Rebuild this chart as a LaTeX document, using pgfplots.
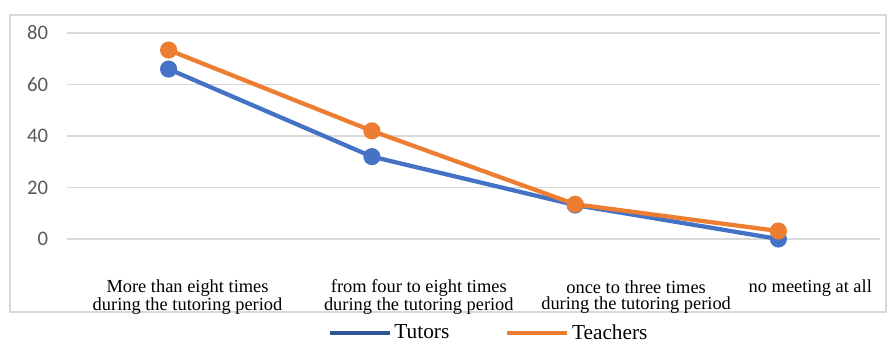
\documentclass[border=0pt]{standalone}
\usepackage{fontspec}
\setmainfont{Liberation Serif}
\newfontfamily\calib{Carlito}
\usepackage{pgfplots}
\pgfplotsset{compat=1.18}
\definecolor{tblue}{HTML}{4472C4}
\definecolor{torange}{HTML}{ED7D31}
\definecolor{tlegblue}{HTML}{2F5597}
\definecolor{gridc}{HTML}{D9D9D9}
\definecolor{tickc}{HTML}{595959}
\begin{document}
\begin{tikzpicture}
\path (0,0) rectangle (666.75pt,-257.25pt);
\draw[color=gridc, line width=1.5pt] (7.5pt,-11.25pt) rectangle (664.5pt,-234pt);
\begin{axis}[
  at={(50.25pt,-179.25pt)}, anchor=south west,
  scale only axis, width=609.75pt, height=154.5pt,
  xmin=-0.5, xmax=3.5, ymin=0, ymax=80,
  clip=false,
  axis line style={draw=none},
  major tick length=0pt,
  ytick={0,20,40,60,80},
  ymajorgrids, grid style={color=gridc, line width=0.8pt},
  yticklabel style={font=\calib\fontsize{15.5}{17}\selectfont, color=tickc, anchor=east, inner sep=0pt, xshift=-14pt},
  /pgf/number format/assume math mode=true,
  xtick={0.093,1.231,2.30,3.157},
  xticklabels={{More than eight times\\during the tutoring period},{from four to eight times\\during the tutoring period},{once to three times\\during the tutoring period},{no meeting at all\\\strut}},
  xticklabel style={font=\fontsize{13.8}{12.5}\selectfont, align=center, anchor=center, yshift=-43.5pt, inner sep=0pt},
  legend style={at={(0.519,-0.456)}, anchor=center, draw=none, fill=none, font=\fontsize{16}{18}\selectfont, legend columns=2, /tikz/every even column/.append style={column sep=40pt}},
]
\addplot[color=tblue, line width=3.2pt, mark=*, mark size=4.8pt,
  legend image code/.code={\draw[color=tlegblue, line width=3pt] (0pt,0pt) -- (45pt,0pt);}]
  coordinates {(0,66) (1,32) (2,13.2) (3,0)};
\addlegendentry{Tutors}
\addplot[color=torange, line width=3.2pt, mark=*, mark size=4.8pt,
  legend image code/.code={\draw[color=torange, line width=3pt] (0pt,0pt) -- (45pt,0pt);}]
  coordinates {(0,73.4) (1,42) (2,13.5) (3,3.1)};
\addlegendentry{Teachers}
\end{axis}
\end{tikzpicture}
\end{document}
